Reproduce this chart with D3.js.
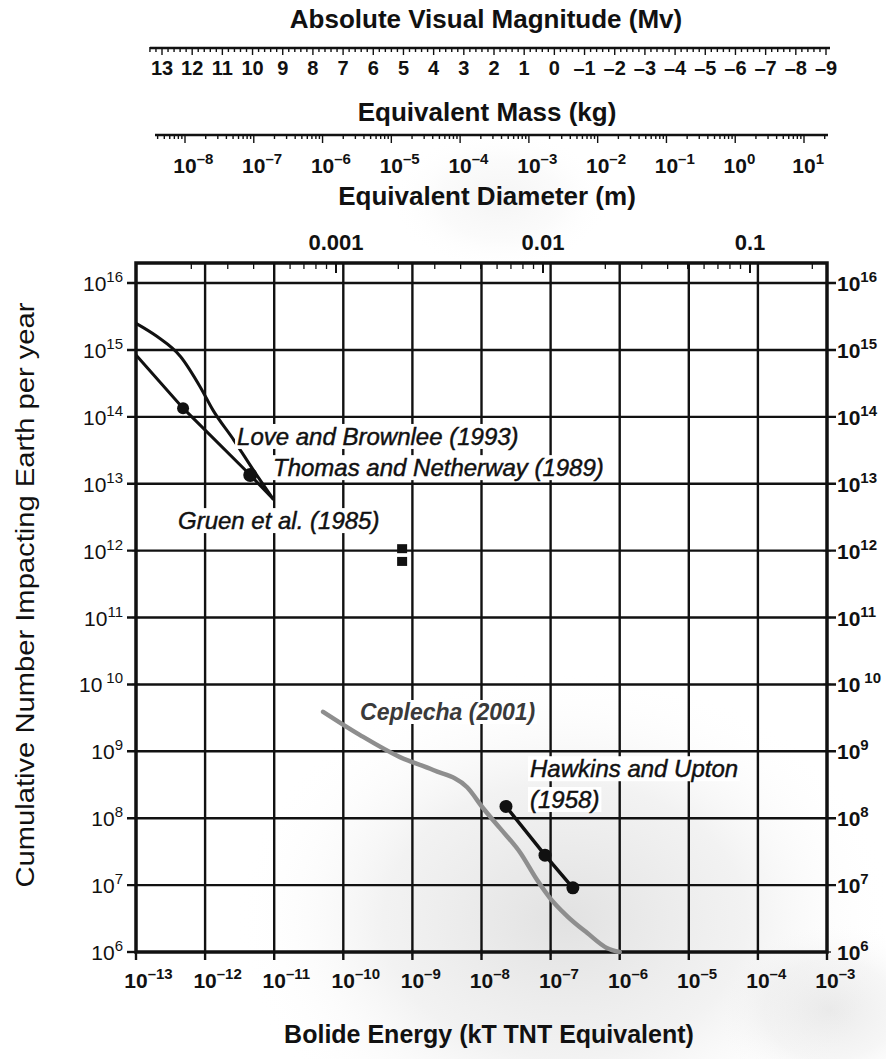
<!DOCTYPE html>
<html>
<head>
<meta charset="utf-8">
<script src="https://cdn.jsdelivr.net/npm/d3@7"></script>
<style>
  html, body { margin: 0; padding: 0; background: #fff; }
  svg { display: block; }
  text { font-family: "Liberation Sans", Arial, Helvetica, sans-serif; fill: #111; }
</style>
</head>
<body>
<svg id="chart" width="886" height="1059"></svg>
<script>
// ---------------- DATA ----------------
// Bottom axis: bolide energy (kT TNT), decade exponents
const energyExponents = [-13, -12, -11, -10, -9, -8, -7, -6, -5, -4, -3];
// Left / right axis: cumulative number per year, decade exponents
const countExponents = [6, 7, 8, 9, 10, 11, 12, 13, 14, 15, 16];
// Top axes
const magnitudeLabels = [13, 12, 11, 10, 9, 8, 7, 6, 5, 4, 3, 2, 1, 0, -1, -2, -3, -4, -5, -6, -7, -8, -9];
const massExponents = [-8, -7, -6, -5, -4, -3, -2, -1, 0, 1];
const diameterValues = [0.001, 0.01, 0.1];
const diameterLabels = ["0.001", "0.01", "0.1"];

// Series: [energy (kT), cumulative number per year]
const upperCurve = [
  [1e-13, 2.5e15], [2e-13, 1.6e15], [4.4e-13, 8e14], [8.5e-13, 2.8e14],
  [1.3e-12, 1.26e14], [2.6e-12, 4.5e13], [5e-12, 1.6e13], [9.8e-12, 5.8e12]
];
const dottedCurve = [
  [1e-13, 8.4e14], [4.8e-13, 1.35e14], [4.5e-12, 1.35e13], [9.8e-12, 5.8e12]
];
const dottedCurveMarkers = [[4.8e-13, 1.35e14], [4.5e-12, 1.35e13]];
const gruenSquares = [[7.1e-10, 1.07e12], [7.1e-10, 6.9e11]];
const ceplecha2001 = [
  [5.1e-11, 3.9e9], [1.75e-10, 1.75e9], [6.6e-10, 8.2e8], [2.0e-9, 5.25e8],
  [6.2e-9, 2.9e8], [1.05e-8, 1.42e8], [1.85e-8, 7.1e7], [3.6e-8, 3.1e7],
  [6.35e-8, 1.2e7], [9.8e-8, 6.4e6], [1.73e-7, 3.45e6], [3.4e-7, 1.92e6],
  [6.5e-7, 1.15e6], [1e-6, 1e6]
];
const hawkinsUpton1958 = [[2.26e-8, 1.5e8], [8.3e-8, 2.8e7], [2.1e-7, 9.1e6]];

// Annotation texts with data anchor (energy, count) of text baseline start
const annotations = [
  { text: "Love and Brownlee (1993)", at: [2.9e-12, 3.8e13], kind: "plain" },
  { text: "Thomas and Netherway (1989)", at: [9.6e-12, 1.3e13], kind: "plain" },
  { text: "Gruen et al. (1985)", at: [4.05e-13, 2.1e12], kind: "plain" },
  { text: "Ceplecha (2001)", at: [1.75e-10, 2.94e9], kind: "gray" },
  { text: "Hawkins and Upton", at: [5.04e-8, 4.1e8], kind: "plain" },
  { text: "(1958)", at: [5.04e-8, 1.42e8], kind: "plain" }
];

// ---------------- LAYOUT ----------------
const svg = d3.select("#chart");
const L = 136, R = 827, T = 263, B = 952;

const x = d3.scaleLog().domain([1e-13, 1e-3]).range([L, R]);
const y = d3.scaleLog().domain([1e6, Math.pow(10, 16.3)]).range([B, T]);
const massScale = d3.scaleLog().domain([1e-8, 1e1]).range([185, 804]);
const diamScale = d3.scaleLog().domain([1e-3, 1e-1]).range([336, 750]);
const magScale = d3.scaleLinear().domain([13, -9]).range([162, 826]);

const dash = n => (n < 0 ? "\u2013" + Math.abs(n) : String(n));

// scan haze
const defs = svg.append("defs");
const rg = defs.append("radialGradient").attr("id", "haze");
rg.append("stop").attr("offset", "0").attr("stop-color", "#c4c4c4").attr("stop-opacity", 0.5);
rg.append("stop").attr("offset", "0.55").attr("stop-color", "#d4d4d4").attr("stop-opacity", 0.3);
rg.append("stop").attr("offset", "1").attr("stop-color", "#ffffff").attr("stop-opacity", 0);
svg.append("ellipse").attr("cx", 565).attr("cy", 920).attr("rx", 330).attr("ry", 250)
  .attr("fill", "url(#haze)");
svg.append("ellipse").attr("cx", 830).attr("cy", 1010).attr("rx", 120).attr("ry", 90)
  .attr("fill", "url(#haze)").attr("opacity", 0.7);
svg.append("ellipse").attr("cx", 500).attr("cy", 200).attr("rx", 110).attr("ry", 70)
  .attr("fill", "url(#haze)").attr("opacity", 0.35);

// ---------- helper: power-of-ten label ----------
function powLabel(g, px, py, exp, opt) {
  const t = g.append("text")
    .attr("y", py)
    .attr("font-size", opt.size)
    .attr("font-weight", opt.weight || "normal");
  const base = t.append("tspan").text("10");
  t.append("tspan").attr("font-size", opt.sup).attr("dy", -opt.raise)
    .attr("dx", exp === 10 && opt.gap ? 4 : 0).text(dash(exp));
  if (opt.mode === "center10") {
    const w = base.node().getComputedTextLength();
    t.attr("x", px - w / 2);
  } else if (opt.mode === "end") {
    t.attr("x", px).attr("text-anchor", "end");
  } else {
    t.attr("x", px);
  }
  return t;
}

// ---------------- GRID ----------------
const grid = svg.append("g").attr("stroke", "#111").attr("stroke-width", 2.4);
energyExponents.slice(1, -1).forEach(e => {
  grid.append("line").attr("x1", x(Math.pow(10, e))).attr("x2", x(Math.pow(10, e)))
    .attr("y1", T).attr("y2", B + 8);
});
countExponents.slice(1).forEach(c => {
  grid.append("line").attr("y1", y(Math.pow(10, c))).attr("y2", y(Math.pow(10, c)))
    .attr("x1", L - 9).attr("x2", R + 9);
});
grid.append("line").attr("x1", L).attr("x2", L).attr("y1", B).attr("y2", B + 8);
grid.append("line").attr("x1", R).attr("x2", R).attr("y1", B).attr("y2", B + 8);
grid.append("line").attr("x1", L - 9).attr("x2", L).attr("y1", B).attr("y2", B);

// minor ticks on frame
const minor = svg.append("g").attr("stroke", "#111").attr("stroke-width", 1.3);
const yTicks = y.ticks().filter(v => y(v) >= T && y(v) <= B);
yTicks.forEach(v => {
  const yy = y(v);
  minor.append("line").attr("x1", L - 4).attr("x2", L + 4).attr("y1", yy).attr("y2", yy);
  minor.append("line").attr("x1", R - 4).attr("x2", R + 4).attr("y1", yy).attr("y2", yy);
});
x.ticks().forEach(v => {
  const xx = x(v);
  minor.append("line").attr("x1", xx).attr("x2", xx).attr("y1", B - 3).attr("y2", B + 4);
});
const diamFull = diamScale.copy().domain([diamScale.invert(L), diamScale.invert(R)]).range([L, R]);
diamFull.ticks().forEach(v => {
  const xx = diamScale(v);
  const major = Math.abs(Math.log10(v) - Math.round(Math.log10(v))) < 1e-6;
  minor.append("line").attr("x1", xx).attr("x2", xx).attr("y1", T).attr("y2", T + (major ? 10 : 6))
    .attr("stroke-width", major ? 2 : 1.3);
});

// frame
svg.append("rect").attr("x", L).attr("y", T).attr("width", R - L).attr("height", B - T)
  .attr("fill", "none").attr("stroke", "#111").attr("stroke-width", 3.5);

// ---------------- SERIES ----------------
const line = d3.line().x(d => x(d[0])).y(d => y(d[1]));
const smooth = d3.line().x(d => x(d[0])).y(d => y(d[1])).curve(d3.curveMonotoneX);

svg.append("path").datum(ceplecha2001).attr("d", smooth)
  .attr("fill", "none").attr("stroke", "#8e8e8e").attr("stroke-width", 4.5).attr("stroke-linecap", "round");

svg.append("path").datum(upperCurve).attr("d", smooth)
  .attr("fill", "none").attr("stroke", "#111").attr("stroke-width", 3);
svg.append("path").datum(dottedCurve).attr("d", line)
  .attr("fill", "none").attr("stroke", "#111").attr("stroke-width", 3);
svg.selectAll(".tn").data(dottedCurveMarkers).enter().append("circle")
  .attr("cx", d => x(d[0])).attr("cy", d => y(d[1])).attr("r", (d, i) => (i ? 7 : 6)).attr("fill", "#111");

svg.selectAll(".gs").data(gruenSquares).enter().append("rect")
  .attr("x", d => x(d[0]) - 5).attr("y", d => y(d[1]) - 4.5).attr("width", 10).attr("height", 9)
  .attr("fill", "#111");

svg.append("path").datum(hawkinsUpton1958).attr("d", line)
  .attr("fill", "none").attr("stroke", "#111").attr("stroke-width", 3.5);
svg.selectAll(".hu").data(hawkinsUpton1958).enter().append("circle")
  .attr("cx", d => x(d[0])).attr("cy", d => y(d[1])).attr("r", 6.5).attr("fill", "#111");

// ---------------- ANNOTATIONS ----------------
const ann = svg.append("g");
annotations.forEach(a => {
  const grp = ann.append("g");
  const gray = a.kind === "gray";
  const t = grp.append("text")
    .attr("x", x(a.at[0])).attr("y", y(a.at[1]))
    .attr("font-size", gray ? 23 : 24)
    .attr("font-style", "italic")
    .attr("font-weight", gray ? "bold" : "normal")
    .style("fill", gray ? "#3a3a3a" : "#111")
    .style("stroke", gray ? "none" : "#111").style("stroke-width", 0.45)
    .text(a.text);
  const bb = t.node().getBBox();
  grp.insert("rect", "text").attr("x", bb.x - 2).attr("y", bb.y + 1)
    .attr("width", bb.width + 4).attr("height", bb.height - 2).attr("fill", "#fff");
});

// ---------------- AXIS LABELS ----------------
const labels = svg.append("g");
energyExponents.forEach(e => {
  powLabel(labels, x(Math.pow(10, e)), 988, e, { size: 21, sup: 15, raise: 9, weight: "bold", mode: "center10" });
});
countExponents.forEach(c => {
  powLabel(labels, 123, y(Math.pow(10, c)) + 8, c, { size: 21, sup: 15, raise: 9, weight: "normal", mode: "end", gap: true });
});
countExponents.forEach(c => {
  powLabel(labels, 837, y(Math.pow(10, c)) + 8, c, { size: 21, sup: 15, raise: 9, weight: "bold", mode: "start", gap: true });
});

labels.append("text").attr("x", 489).attr("y", 1043).attr("text-anchor", "middle")
  .attr("font-size", 25).attr("font-weight", "bold").text("Bolide Energy (kT TNT Equivalent)");

labels.append("text").attr("transform", "translate(34,595) rotate(-90)").attr("text-anchor", "middle")
  .attr("font-size", 26).attr("textLength", 585).attr("lengthAdjust", "spacingAndGlyphs")
  .text("Cumulative Number Impacting Earth per year");

// ---------------- TOP AXES ----------------
const topG = svg.append("g");
topG.append("text").attr("x", 486).attr("y", 28).attr("text-anchor", "middle")
  .attr("font-size", 26).attr("font-weight", "bold").text("Absolute Visual Magnitude (Mv)");
topG.append("line").attr("x1", 150).attr("x2", 830).attr("y1", 48).attr("y2", 48)
  .attr("stroke", "#111").attr("stroke-width", 2.5);
const magTicks = d3.range(13.4, -9.2, -0.2);
magTicks.forEach(m => {
  const xx = magScale(m);
  const isInt = Math.abs(m - Math.round(m)) < 1e-6;
  topG.append("line").attr("x1", xx).attr("x2", xx).attr("y1", 47).attr("y2", isInt ? 55 : 52)
    .attr("stroke", "#111").attr("stroke-width", 1.4);
});
magnitudeLabels.forEach(m => {
  topG.append("text").attr("x", magScale(m)).attr("y", 75).attr("text-anchor", "middle")
    .attr("font-size", 20).attr("font-weight", "bold").text(dash(m));
});

topG.append("text").attr("x", 487).attr("y", 121).attr("text-anchor", "middle")
  .attr("font-size", 26).attr("font-weight", "bold").text("Equivalent Mass (kg)");
topG.append("line").attr("x1", 155).attr("x2", 828).attr("y1", 135).attr("y2", 135)
  .attr("stroke", "#111").attr("stroke-width", 2.5);
const massFull = massScale.copy().domain([massScale.invert(155), massScale.invert(828)]).range([155, 828]);
massFull.ticks().forEach(v => {
  const xx = massScale(v);
  const major = Math.abs(Math.log10(v) - Math.round(Math.log10(v))) < 1e-6;
  topG.append("line").attr("x1", xx).attr("x2", xx).attr("y1", 134).attr("y2", major ? 143 : 139)
    .attr("stroke", "#111").attr("stroke-width", 1.4);
});
massExponents.forEach(e => {
  powLabel(topG, massScale(Math.pow(10, e)), 173, e, { size: 21, sup: 15, raise: 9, weight: "bold", mode: "center10" });
});

topG.append("text").attr("x", 487).attr("y", 205).attr("text-anchor", "middle")
  .attr("font-size", 26).attr("font-weight", "bold").text("Equivalent Diameter (m)");
diameterValues.forEach((d, i) => {
  topG.append("text").attr("x", diamScale(d)).attr("y", 250).attr("text-anchor", "middle")
    .attr("font-size", 22).attr("font-weight", "bold").text(diameterLabels[i]);
});
</script>
</body>
</html>
